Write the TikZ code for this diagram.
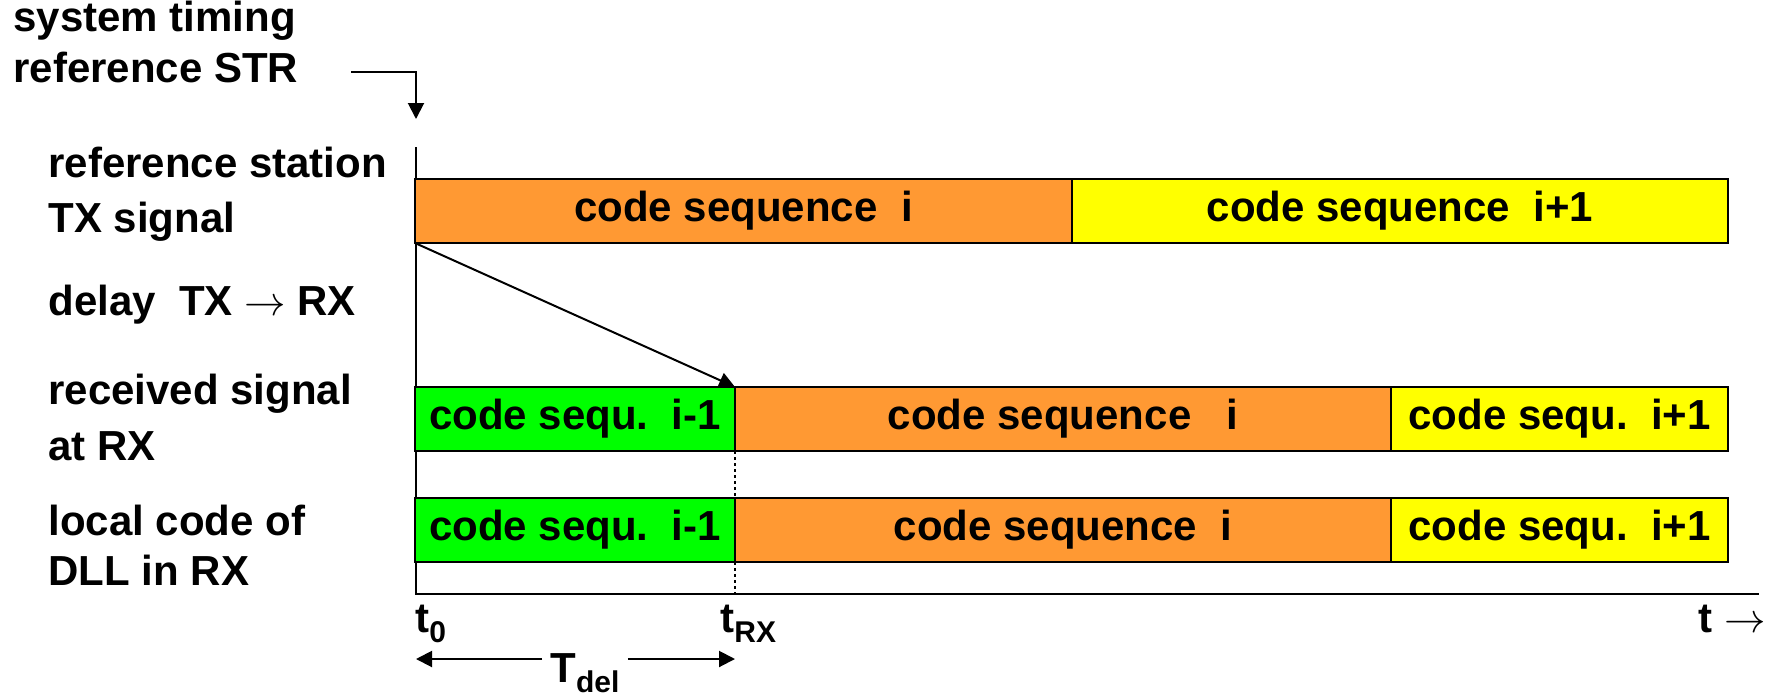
\documentclass[tikz,border=0pt]{standalone}
\usepackage{fontspec}
\setmainfont{Liberation Sans}
\usetikzlibrary{arrows.meta,positioning}
\definecolor{seqorange}{RGB}{255,153,51}
\definecolor{seqyellow}{RGB}{255,255,0}
\definecolor{seqgreen}{RGB}{0,255,0}
\newcommand{\lowsub}[1]{\raisebox{-5pt}{\fontsize{15}{15}\selectfont #1}}
\tikzset{
  lbl/.style={font=\bfseries\fontsize{21}{#1}\selectfont,align=left,anchor=base west,inner sep=0pt},
  lbl/.default=27pt,
  seqbox/.style={rectangle,draw=black,line width=1.4pt,inner sep=0pt,outer sep=0pt,minimum height=32pt,font=\bfseries\fontsize{21}{25}\selectfont},
  orangebox/.style={seqbox,fill=seqorange},
  yellowbox/.style={seqbox,fill=seqyellow},
  greenbox/.style={seqbox,fill=seqgreen},
  axisline/.style={line width=1.4pt},
  arr/.style={-{Triangle[length=8pt,width=8pt]},line width=1pt},
  dotline/.style={dash pattern=on 1.5pt off 1.5pt,line width=1.2pt}
}

\begin{document}
\begin{tikzpicture}[x=0.5pt,y=-0.5pt]
  \useasboundingbox (0,0) rectangle (1775,696);

  %% left labels (base = last line)
  \node[lbl=25pt] (str) at (13,82) {system timing\\reference STR};
  \node[lbl=27.5pt] (txlbl) at (48,232) {reference station\\TX signal};
  \node[lbl] (dlylbl) at (48,315) {delay\ \ TX $\rightarrow$ RX};
  \node[lbl=28pt] (rxlbl) at (48,460) {received signal\\at RX};
  \node[lbl=25pt] (dlllbl) at (48,585) {local code of\\DLL in RX};

  %% time axis
  \coordinate (top) at (416,147);
  \coordinate (orig) at (416,594);
  \coordinate (tend) at (1759,594);
  \draw[axisline] (top) -- (orig) -- (tend);

  %% STR marker
  \coordinate (strA) at (351,72);
  \coordinate (strB) at (416,119);
  \draw[arr] (strA) -| (strB);

  %% TX signal
  \node[orangebox,minimum width=328.5pt,anchor=north west] (tx1) at (415,179) {code sequence\ \ i};
  \node[yellowbox,minimum width=328pt,right=0pt of tx1] (tx2) {code sequence\ \ i+1};

  %% received signal
  \node[greenbox,minimum width=160pt,anchor=north west] (rx0) at (415,387) {code sequ.\ \ i-1};
  \node[orangebox,minimum width=328pt,right=0pt of rx0] (rx1) {code sequence\ \ \ i};
  \node[yellowbox,minimum width=168.5pt,right=0pt of rx1] (rx2) {code sequ.\ \ i+1};

  %% local code
  \node[greenbox,minimum width=160pt,anchor=north west] (lc0) at (415,498) {code sequ.\ \ i-1};
  \node[orangebox,minimum width=328pt,right=0pt of lc0] (lc1) {code sequence\ \ i};
  \node[yellowbox,minimum width=168.5pt,right=0pt of lc1] (lc2) {code sequ.\ \ i+1};

  %% delay
  \draw[arr] (tx1.south west) -- (rx1.north west);
  \coordinate (trx) at (lc1.south west |- orig);
  \draw[dotline] (rx1.south west) -- (lc1.north west);
  \draw[dotline] (lc1.south west) -- (trx);

  %% time labels
  \node[lbl] (t0) at (415,632) {t\lowsub{0}};
  \node[lbl] (tRX) at (720,632) {t\lowsub{RX}};
  \node[lbl] (tlbl) at (1698,632) {t $\rightarrow$};
  \node[lbl,anchor=base,inner xsep=4pt] (tdel) at (585,682) {T\lowsub{del}};
  \coordinate (dl) at (orig |- 0,659);
  \coordinate (dr) at (trx |- 0,659);
  \draw[arr] (tdel.west |- dl) -- (dl);
  \draw[arr] (tdel.east |- dr) -- (dr);
\end{tikzpicture}
\end{document}
